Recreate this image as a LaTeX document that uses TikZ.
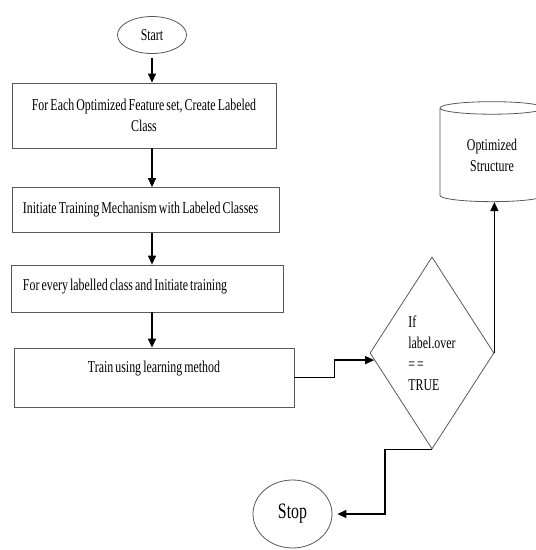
\documentclass[tikz,border=0pt]{standalone}
\usepackage{fontspec}
\setmainfont{Liberation Serif}[FakeStretch=0.72,WordSpace=0.72]
\usetikzlibrary{shapes.geometric,arrows.meta}
\begin{document}
\begin{tikzpicture}[x=1pt,y=-1pt,
  every node/.style={font=\fontsize{16.5}{21}\selectfont},
  shapeline/.style={draw=black!65, line width=0.8pt, inner sep=0pt},
  box/.style={shapeline, rectangle},
  leftbox/.style={box, align=left, execute at begin node={\spaceskip=0pt\xspaceskip=0pt}},
  term/.style={shapeline, ellipse},
  conn/.style={draw=black, line width=1.3pt, -{Triangle[length=9pt,width=8pt]}}]
\useasboundingbox (0,0) rectangle (536,550);
\node[term, minimum width=69pt, minimum height=37pt] (start) at (152,35) {Start};
\node[box, minimum width=264pt, minimum height=65pt, align=center] (b1) at (144,115.5)
  {For Each Optimized Feature set, Create Labeled\\Class};
\node[leftbox, minimum width=267pt, minimum height=45pt, text width=245pt, inner xsep=11pt] (b2) at (145.5,210)
  {\mbox{Initiate Training Mechanism with Labeled Classes}};
\node[leftbox, minimum width=272pt, minimum height=47pt, text width=248pt, inner xsep=12pt, text height=11pt, text depth=7pt] (b3) at (147,288.5)
  {\mbox{For every labelled class and Initiate training}};
\node[box, minimum width=280pt, minimum height=59pt, text height=11pt, text depth=21pt] (b4) at (154,377.5)
  {Train using learning method};
\node[shapeline, diamond, minimum width=124pt, minimum height=192pt, align=left] (dia) at (432,353)
  {If\\label.over\\= =\\TRUE};
\node[term, minimum width=79pt, minimum height=68pt, font=\fontsize{22}{26}\selectfont] (stop) at (292.5,514) {Stop};
\node[shapeline, cylinder, shape border rotate=90, aspect=0.25, minimum width=104pt, minimum height=100pt, align=center] (cyl) at (492,155)
  {Optimized\\Structure};
\draw[conn] (start.south) ++(0,4) -- (start.south |- b1.north);
\draw[conn] (b1.south -| start.south) -- (start.south |- b2.north);
\draw[conn] (b2.south -| start.south) -- (start.south |- b3.north);
\draw[conn] (b3.south -| start.south) -- (start.south |- b4.north);
\draw[conn] (b4.east) -- ++(40,0) |- (dia.187);
\draw[conn, shorten >=5pt] (dia.south) -- ++(-47,0) |- (stop.east);
\draw[conn] (dia.east) -- (dia.east |- cyl.south);
\end{tikzpicture}
\end{document}
